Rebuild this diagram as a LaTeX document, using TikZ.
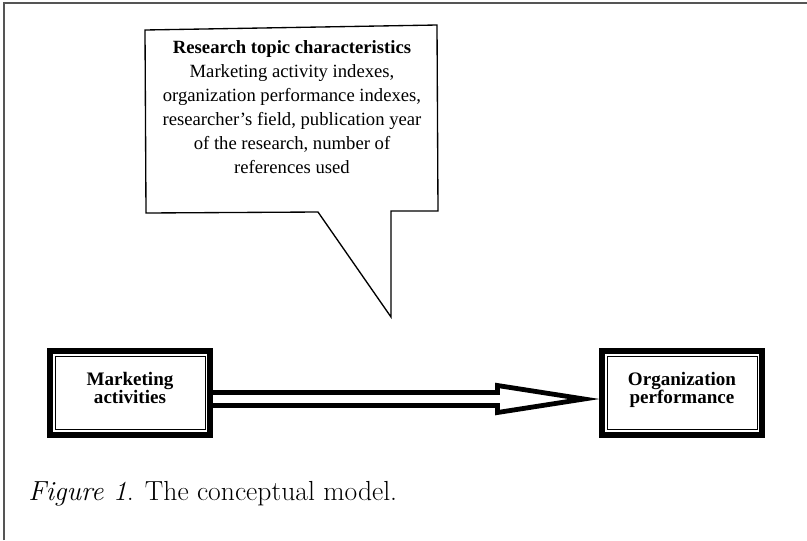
\documentclass[tikz,border=0pt]{standalone}
\usepackage{fontspec}
\usepackage{tikz}
\newfontfamily\timesfont{Liberation Serif}
\definecolor{rulegray}{HTML}{555555}

\begin{document}
\begin{tikzpicture}[x=0.75pt,y=-0.75pt,
    block/.style={draw, line width=0.7pt, minimum width=112.5pt, minimum height=55pt, text depth=7.5pt, align=center, font=\timesfont\bfseries\fontsize{14.3}{13.5}\selectfont},
    rim/.style={line width=4.2pt},
    note/.style={align=center, inner sep=0pt, font=\timesfont\fontsize{14}{18}\selectfont},
    hollow/.style={line width=3.6pt, line join=miter},
    frameline/.style={draw=rulegray, line width=1.3pt}]
    \useasboundingbox (0,0) rectangle (807,540);
    \coordinate (fl) at (4,540);
    \coordinate (fc) at (4,3);
    \coordinate (fr) at (807,3);
    \draw[frameline] (fl) -- (fc) -- (fr);

    \node[note, anchor=north] (topic) at (292,40) {\textbf{Research topic characteristics}\\Marketing activity indexes,\\organization performance indexes,\\researcher’s field, publication year\\of the research, number of\\references used};
    \draw[line width=1pt] (145,30) -- (437,25) -- (438,211) -- (391,211) -- (391,317) -- (318,212) -- (146,213) -- cycle;

    \node[block] (mkt) at (130,393) {Marketing\\activities};
    \node[block] (org) at (682,393) {Organization\\performance};
    \draw[rim] ([shift={(-4.8,-4.8)}]mkt.north west) rectangle ([shift={(4.8,4.8)}]mkt.south east);
    \draw[rim] ([shift={(-4.8,-4.8)}]org.north west) rectangle ([shift={(4.8,4.8)}]org.south east);

    \coordinate (tail) at ([shift={(4.5,6)}]mkt.east);
    \coordinate (tip) at ([shift={(-22.5,6)}]org.west);
    \draw[hollow] ([shift={(0,-6.5)}]tail) -- ([shift={(-86.5,-6.5)}]tip)
        -- ([shift={(-86.5,-13.5)}]tip) -- (tip) -- ([shift={(-86.5,13.5)}]tip)
        -- ([shift={(-86.5,6.5)}]tip) -- ([shift={(0,6.5)}]tail);

    \node[anchor=base west, inner sep=0pt, font=\fontsize{20.7}{24}\selectfont] (caption) at (28,500) {\textit{Figure 1}. The conceptual model.};
\end{tikzpicture}
\end{document}
